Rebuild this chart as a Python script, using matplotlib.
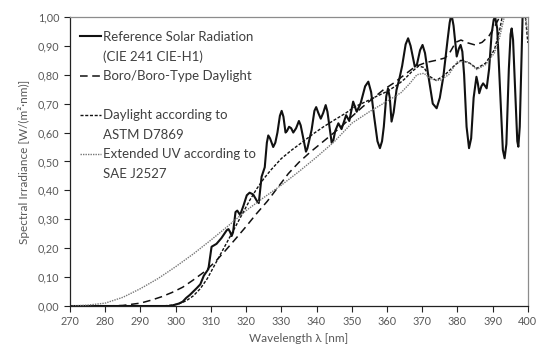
import numpy as np
import matplotlib
matplotlib.use('Agg')
import matplotlib.pyplot as plt
from matplotlib.lines import Line2D
from matplotlib.ticker import FuncFormatter, MultipleLocator

plt.rcParams['font.family'] = ['Lato', 'DejaVu Sans']

TEXT_GREY = '#595959'

# CIE 241 CIE-H1 reference solar radiation
ref_wl = [270, 298, 299, 300, 301, 302, 303, 304, 305, 306, 307, 308, 309.3, 310.2, 311.6,
          313, 314.5, 315, 315.5, 315.9, 316.3, 317, 317.5, 318.3, 319.2, 320.2, 321, 322,
          323, 323.6, 324.4, 325.3, 325.9, 326.3, 326.8, 327.7, 328.3, 328.9, 329.6, 330.1,
          330.6, 331.2, 331.6, 332.2, 332.8, 333.4, 334.2, 335, 335.5, 337, 337.4, 338.6,
          339.4, 339.9, 340.5, 341.2, 341.9, 342.6, 343.1, 344.3, 344.8, 345.3, 346.2, 347.1,
          348.4, 349.3, 350.4, 351.4, 352.5, 353.8, 354.7, 355.5, 356.3, 357.3, 358, 358.6,
          359.1, 359.8, 360.3, 360.8, 361.3, 361.9, 362.7, 363.5, 364.3, 365.3, 366, 366.7,
          367.9, 368.5, 369.4, 370.1, 370.8, 371.7, 373, 374.1, 375, 376, 377.2, 377.8,
          378.3, 378.9, 379.8, 380.4, 380.9, 381.4, 381.9, 382.6, 383.3, 383.9, 384.6, 385.4,
          385.8, 386.2, 386.8, 387.3, 387.8, 388.3, 389, 389.7, 390.3, 390.7, 391.3, 392.2,
          392.9, 393.4, 393.9, 394.6, 395.1, 395.4, 395.8, 396.5, 397, 397.3, 397.7, 398.5,
          399.3, 400]
ref_val = [0, 0, 0.002, 0.005, 0.009, 0.015, 0.028, 0.038, 0.05, 0.062, 0.075, 0.105, 0.128,
           0.205, 0.215, 0.235, 0.262, 0.266, 0.255, 0.242, 0.255, 0.325, 0.33, 0.315, 0.345,
           0.383, 0.392, 0.386, 0.365, 0.356, 0.447, 0.48, 0.565, 0.59, 0.58, 0.55, 0.565,
           0.60, 0.658, 0.675, 0.655, 0.60, 0.605, 0.62, 0.615, 0.60, 0.615, 0.64, 0.625,
           0.534, 0.545, 0.609, 0.675, 0.688, 0.668, 0.648, 0.668, 0.695, 0.672, 0.565, 0.575,
           0.605, 0.632, 0.612, 0.66, 0.64, 0.707, 0.672, 0.70, 0.76, 0.776, 0.74, 0.66, 0.57,
           0.546, 0.57, 0.62, 0.725, 0.753, 0.72, 0.638, 0.67, 0.747, 0.785, 0.83, 0.905,
           0.926, 0.90, 0.828, 0.835, 0.885, 0.903, 0.875, 0.80, 0.70, 0.684, 0.72, 0.793,
           0.92, 0.98, 1.01, 0.97, 0.863, 0.89, 0.903, 0.88, 0.80, 0.62, 0.546, 0.58, 0.72,
           0.793, 0.77, 0.736, 0.76, 0.77, 0.762, 0.753, 0.82, 0.94, 0.99, 1.0, 0.96, 0.72,
           0.54, 0.511, 0.56, 0.82, 0.94, 0.96, 0.92, 0.72, 0.57, 0.551, 0.62, 1.0, 1.12, 1.2]

# Boro/Boro-type daylight filter
boro_wl = [270, 280, 285, 290, 293, 296, 299, 302, 305, 308, 311, 314, 317, 320, 323, 326,
           329, 332, 335, 338, 341, 344, 347, 350, 353, 356, 359, 362, 365, 368, 371, 374,
           376.5, 378, 379.5, 381, 383, 385, 387, 389, 390.5, 392, 393.5]
boro_val = [0, 0, 0.002, 0.01, 0.02, 0.032, 0.047, 0.065, 0.09, 0.117, 0.15, 0.19, 0.232,
            0.275, 0.32, 0.362, 0.41, 0.458, 0.497, 0.53, 0.56, 0.59, 0.62, 0.655, 0.688,
            0.718, 0.748, 0.772, 0.80, 0.828, 0.842, 0.85, 0.858, 0.88, 0.912, 0.92, 0.91,
            0.903, 0.912, 0.935, 0.965, 1.0, 1.06]

# daylight according to ASTM D7869
astm_wl = [270, 296, 299, 301, 303, 305, 307, 309, 311, 313, 315, 317, 319, 321, 323, 325,
           327, 330, 333, 336, 339, 342, 345, 348, 351, 354, 357, 360, 363, 365, 367, 369,
           370.5, 372, 374, 376.5, 379, 381, 383.5, 385.5, 388, 390.5, 392, 393.5, 395, 397,
           398.5, 399.3, 400]
astm_val = [0, 0, 0.003, 0.008, 0.018, 0.035, 0.06, 0.095, 0.14, 0.185, 0.23, 0.275, 0.32,
            0.365, 0.405, 0.44, 0.47, 0.51, 0.54, 0.567, 0.595, 0.62, 0.643, 0.665, 0.69,
            0.707, 0.725, 0.742, 0.765, 0.785, 0.81, 0.83, 0.825, 0.795, 0.78, 0.80, 0.83,
            0.85, 0.84, 0.822, 0.84, 0.886, 0.955, 1.05, 1.12, 1.12, 1.06, 1.0, 0.91]

# extended UV according to SAE J2527
sae_wl = [270, 275, 280, 285, 290, 295, 300, 305, 310, 315, 320, 325, 330, 335, 340, 345,
          350, 355, 360, 364, 366.5, 368.5, 370.5, 372.5, 375, 377.5, 380, 383, 385.5, 388,
          390.5, 392, 393.5, 395, 397, 398.5, 399.4, 400]
sae_val = [0, 0.003, 0.01, 0.03, 0.06, 0.095, 0.136, 0.18, 0.228, 0.278, 0.33, 0.375, 0.418,
           0.465, 0.515, 0.568, 0.632, 0.672, 0.708, 0.738, 0.77, 0.80, 0.805, 0.785, 0.78,
           0.80, 0.845, 0.845, 0.818, 0.835, 0.875, 0.93, 1.01, 1.1, 1.12, 1.07, 1.0, 0.935]

labels = ['Reference Solar Radiation', '(CIE 241 CIE-H1)',
          'Boro/Boro-Type Daylight', '',
          'Daylight according to', 'ASTM D7869',
          'Extended UV according to', 'SAE J2527']


def comma_fmt(v, pos):
    return '{:.2f}'.format(v).replace('.', ',')


fig = plt.figure(figsize=(5.51, 3.45), dpi=100)
ax = fig.add_axes([0.127, 0.113, 0.831, 0.838])

l_ref, = ax.plot(ref_wl, ref_val, color='#111111', lw=1.5, solid_joinstyle='round')
l_boro, = ax.plot(boro_wl, boro_val, color='#111111', lw=1.1, dashes=(5, 3))
l_astm, = ax.plot(astm_wl, astm_val, color='#111111', lw=1.0, dashes=(2.2, 1.2))
l_sae, = ax.plot(sae_wl, sae_val, color='#777777', lw=1.0, dashes=(1, 0.8))

ax.set_xlim(270, 400)
ax.set_ylim(0, 1)
ax.xaxis.set_major_locator(MultipleLocator(10))
ax.yaxis.set_major_locator(MultipleLocator(0.1))
ax.yaxis.set_major_formatter(FuncFormatter(comma_fmt))
ax.tick_params(direction='out', length=4, width=0.8, color='#222222',
               labelsize=7.8, labelcolor=TEXT_GREY)

for side in ['left', 'bottom']:
    ax.spines[side].set_color('#222222')
    ax.spines[side].set_linewidth(0.9)
for side in ['top', 'right']:
    ax.spines[side].set_color('#8c8c8c')
    ax.spines[side].set_linewidth(0.9)

ax.set_xlabel('Wavelength λ [nm]', fontsize=8.5, color=TEXT_GREY, labelpad=4)
ax.set_ylabel('Spectral Irradiance [W/(m²·nm)]', fontsize=8.5, color=TEXT_GREY, labelpad=6)

blank = Line2D([], [], color='none')
handles = [l_ref, blank, l_boro, blank, l_astm, blank, l_sae, blank]
leg = ax.legend(handles, labels, loc='upper left', bbox_to_anchor=(0.022, 0.952),
                frameon=False, fontsize=9.5, handlelength=1.55, handletextpad=0.2,
                labelspacing=0.57, borderpad=0, borderaxespad=0)
for t in leg.get_texts():
    t.set_color('#404040')

fig.savefig('out.png', dpi=100)
